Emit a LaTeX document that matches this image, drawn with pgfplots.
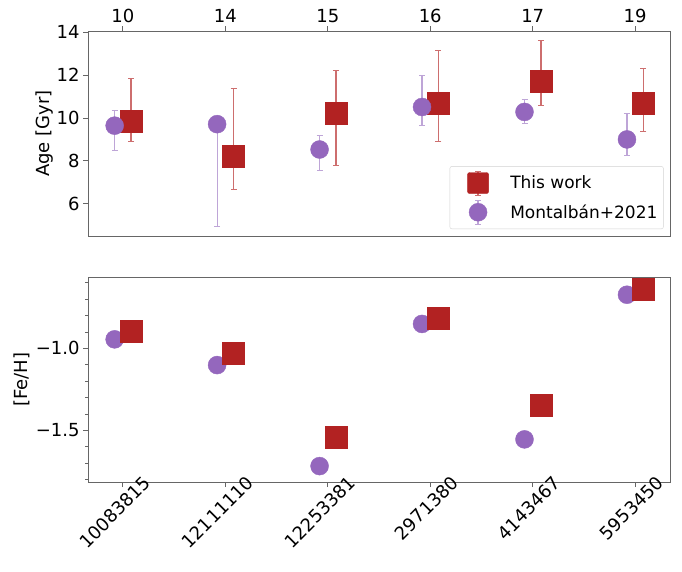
\documentclass[border=0pt]{standalone}
\usepackage{pgfplots}
\pgfplotsset{compat=1.18}
\usepackage{fontspec}
\setmainfont{DejaVu Sans}
\definecolor{fb}{RGB}{178,34,34}
\definecolor{tp}{RGB}{148,103,189}
\definecolor{fbl}{RGB}{205,110,110}
\definecolor{tpl}{RGB}{190,165,215}
\begin{document}
\begin{tikzpicture}
\path[use as bounding box] (0pt,0pt) rectangle (682pt,-571pt);
\pgfplotsset{
  every axis/.append style={
    /pgf/number format/assume math mode=true,
    scale only axis, width=582pt, height=205pt,
    xmin=-0.34, xmax=5.34,
    axis line style={gray!80!black, line width=0.8pt},
    tick align=outside, major tick length=5pt, minor tick length=3pt,
    tick style={gray!80!black, line width=0.8pt},
    tick label style={font=\fontsize{18}{21}\selectfont, text=black},
    label style={font=\fontsize{18}{21}\selectfont},
    ytick pos=left,
    clip=false,
  },
  redp/.style={only marks, mark=square*, mark size=11pt, color=fb,
    mark options={fill=fb, draw=fb},
    error bars/.cd, y dir=both, y explicit,
    error bar style={fbl, line width=1.2pt},
    error mark options={fbl, mark size=3pt, line width=1pt, rotate=90},
    /pgfplots/.cd},
  purp/.style={only marks, mark=*, mark size=9pt, color=tp,
    mark options={fill=tp, draw=tp},
    error bars/.cd, y dir=both, y explicit,
    error bar style={tpl, line width=1.2pt},
    error mark options={tpl, mark size=3pt, line width=1pt, rotate=90},
    /pgfplots/.cd},
}
\begin{axis}[at={(88pt,-31pt)}, anchor=north west,
  ymin=4.5, ymax=14.05,
  ytick={6,8,10,12,14},
  xtick={0,1,2,3,4,5}, xticklabels={10,14,15,16,17,19},
  xtick pos=upper, xticklabel pos=upper,
  ylabel={Age [Gyr]},
  ylabel style={at={(axis description cs:-0.074,0.5)}, anchor=center, rotate=0},
  legend style={at={(0.989,0.034)}, anchor=south east, rounded corners=2pt,
    draw=gray!35, font=\fontsize{17}{20}\selectfont, row sep=4pt,
    inner xsep=4pt, inner ysep=4pt, cells={anchor=west}},
  legend cell align=left,
]
\addplot[redp, legend image code/.code={
   \draw[fbl, line width=1.2pt] (24pt,-12pt) -- (24pt,12pt);
   \draw[fbl, line width=1pt] (21pt,12pt) -- (27pt,12pt);
   \draw[fbl, line width=1pt] (21pt,-12pt) -- (27pt,-12pt);
   \fill[fb] (24pt,0) +(-10.5pt,-10.5pt) rectangle +(10.5pt,10.5pt);
   \path (0pt,0) (54pt,0);}]
 table[x=x, y=y, y error plus=ep, y error minus=em] {
x y ep em
0.08 9.85 2.00 0.96
1.08 8.22 3.17 1.56
2.08 10.23 1.98 2.44
3.08 10.69 2.46 1.80
4.08 11.73 1.88 1.17
5.08 10.69 1.63 1.34
};
\addlegendentry{This work}
\addplot[purp, legend image code/.code={
   \draw[tpl, line width=1.2pt] (24pt,-12pt) -- (24pt,12pt);
   \draw[tpl, line width=1pt] (21pt,12pt) -- (27pt,12pt);
   \draw[tpl, line width=1pt] (21pt,-12pt) -- (27pt,-12pt);
   \fill[tp] (24pt,0) circle (9pt);
   \path (0pt,0) (54pt,0);}]
 table[x=x, y=y, y error plus=ep, y error minus=em] {
x y ep em
-0.08 9.64 0.72 1.17
0.92 9.71 0.38 4.76
1.92 8.53 0.67 0.99
2.92 10.51 1.47 0.87
3.92 10.28 0.60 0.56
4.92 9.00 1.19 0.73
};
\addlegendentry{Montalbán+2021}
\end{axis}
\begin{axis}[at={(88pt,-277pt)}, anchor=north west,
  ymin=-1.815, ymax=-0.565,
  ytick={-1.5,-1.0}, yticklabels={−1.5,−1.0},
  minor ytick={-1.8,-1.7,-1.6,-1.4,-1.3,-1.2,-1.1,-0.9,-0.8,-0.7,-0.6},
  xtick={0,1,2,3,4,5},
  xticklabels={10083815,12111110,12253381,2971380,4143467,5953450},
  xtick pos=lower,
  xticklabel style={rotate=45, anchor=north east, xshift=26pt, yshift=-2pt},
  ylabel={[Fe/H]},
  ylabel style={at={(axis description cs:-0.113,0.5)}, anchor=center, rotate=0},
]
\addplot[purp] table[x=x, y=y, y error plus=e, y error minus=e] {
x y e
-0.08 -0.945 0.025
0.92 -1.102 0.025
1.92 -1.718 0.025
2.92 -0.851 0.025
3.92 -1.555 0.025
4.92 -0.673 0.025
};
\addplot[redp] table[x=x, y=y, y error plus=e, y error minus=e] {
x y e
0.08 -0.898 0.0
1.08 -1.031 0.0
2.08 -1.541 0.0
3.08 -0.816 0.0
4.08 -1.347 0.0
5.08 -0.639 0.0
};
\end{axis}
\end{tikzpicture}
\end{document}
